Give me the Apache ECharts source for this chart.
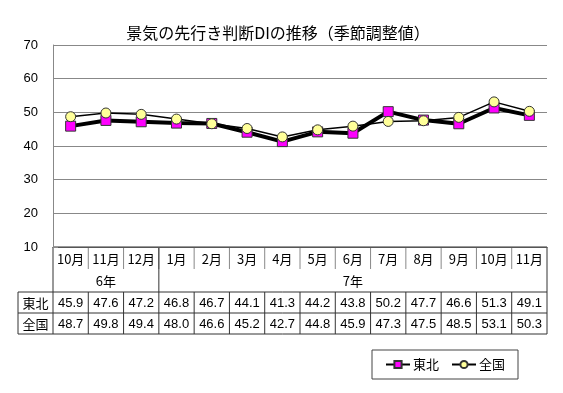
<!DOCTYPE html>
<html><head><meta charset="utf-8">
<script src="https://cdn.jsdelivr.net/npm/echarts@6/dist/echarts.min.js"></script>
<style>html,body{margin:0;padding:0;background:#fff}#c{width:563px;height:393px}</style>
</head><body><div id="c"></div>
<script>
const titleText = '景気の先行き判断DIの推移（季節調整値）';
const months = ['10月','11月','12月','1月','2月','3月','4月','5月','6月','7月','8月','9月','10月','11月'];
const yearLabels = ['6年','7年'];
const yearSpans = [3, 11];
const seriesNames = ['東北','全国'];
const tohoku = [45.9,47.6,47.2,46.8,46.7,44.1,41.3,44.2,43.8,50.2,47.7,46.6,51.3,49.1];
const zenkoku = [48.7,49.8,49.4,48.0,46.6,45.2,42.7,44.8,45.9,47.3,47.5,48.5,53.1,50.3];
const yMin = 10, yMax = 70, yStep = 10;

const FONT = '"Liberation Sans", Arial, "Noto Sans CJK JP", sans-serif';
const CJK = '"Noto Sans CJK JP", sans-serif';
const chart = echarts.init(document.getElementById('c'), null, {renderer:'canvas'});
const option = {
  animation: false,
  title: { text: titleText, left: 273, top: 20, textAlign: 'center',
    textStyle: { fontFamily: CJK, fontSize: 16, fontWeight: 'normal', color: '#000' } },
  grid: { left: 53, right: 16, top: 45, bottom: 146, containLabel: false },
  xAxis: { type: 'category', data: months.map((m,i)=>String(i)), boundaryGap: true,
    axisLine: { show: true, lineStyle: { color: '#555', width: 1 } },
    axisTick: { show: false }, axisLabel: { show: false }, splitLine: { show: false } },
  yAxis: { type: 'value', min: yMin, max: yMax, interval: yStep,
    axisLine: { show: true, lineStyle: { color: '#888', width: 1 } },
    axisTick: { show: true, inside: true, length: 5, lineStyle: { color: '#888' } },
    axisLabel: { color: '#000', fontFamily: FONT, fontSize: 13, margin: 15 },
    splitLine: { show: true, lineStyle: { color: '#888', width: 1 } } },
  legend: { left: 372, top: 350, orient: 'horizontal', padding: [8, 13, 8, 13],
    borderColor: '#444', borderWidth: 1, itemWidth: 24, itemHeight: 9, itemGap: 12,
    textStyle: { fontFamily: CJK, fontSize: 13, color: '#000', padding: [0,0,0,-2] },
    data: seriesNames },
  series: [
    { name: seriesNames[0], type: 'line', data: tohoku, symbol: 'rect', symbolSize: 10,
      lineStyle: { color: '#000', width: 4 },
      itemStyle: { color: '#FF00FF', borderColor: '#333', borderWidth: 1 }, z: 2 },
    { name: seriesNames[1], type: 'line', data: zenkoku, symbol: 'circle', symbolSize: 10,
      lineStyle: { color: '#000', width: 1.5 },
      itemStyle: { color: '#FFFF99', borderColor: '#333', borderWidth: 1 }, z: 3 }
  ]
};
chart.setOption(option);

// Build the data table under the axis from the axis scale
const half = (chart.convertToPixel({xAxisIndex:0}, 1) - chart.convertToPixel({xAxisIndex:0}, 0)) / 2;
const cx = i => chart.convertToPixel({xAxisIndex:0}, i);
const axisY = chart.convertToPixel({yAxisIndex:0}, yMin);
const rowH = [23, 22, 21, 21];
const r0 = axisY, r1 = r0 + rowH[0], r2 = r1 + rowH[1], r3 = r2 + rowH[2], r4 = r3 + rowH[3];
const xL = cx(0) - half, xR = cx(months.length - 1) + half, xLab = xL - 35;
const g = [];
const line = (x1,y1,x2,y2,c) => g.push({type:'line', shape:{x1,y1,x2,y2}, style:{stroke:c||'#333', lineWidth:1}, silent:true});
const text = (x,y,t,f) => g.push({type:'text', x, y, style:{text:t, fill:'#000', font:'13px ' + (f||FONT), align:'center', verticalAlign:'middle'}, silent:true});
line(xL, r0, xL, r4);
line(xR, r0, xR, r4);
line(xL, r0, xR, r0);
line(xLab, r2, xR, r2);
line(xLab, r3, xR, r3);
line(xLab, r4, xR, r4);
line(xLab, r2, xLab, r4);
for (let i = 1; i < months.length; i++) {
  const x = cx(i) - half;
  line(x, r0, x, r1 - 1, '#888');
  line(x, r2, x, r4);
}
let acc = 0;
yearLabels.forEach((lab, k) => {
  const s = acc, e = acc + yearSpans[k] - 1;
  text((cx(s) + cx(e)) / 2, (r1 + r2) / 2, lab, CJK);
  if (k > 0) line(cx(s) - half, r0, cx(s) - half, r2);
  acc += yearSpans[k];
});
months.forEach((m, i) => {
  text(cx(i), (r0 + r1) / 2 + 1, m, CJK);
  text(cx(i), (r2 + r3) / 2 + 1, tohoku[i].toFixed(1));
  text(cx(i), (r3 + r4) / 2 + 1, zenkoku[i].toFixed(1));
});
text((xLab + xL) / 2, (r2 + r3) / 2 + 1, seriesNames[0], CJK);
text((xLab + xL) / 2, (r3 + r4) / 2 + 1, seriesNames[1], CJK);
chart.setOption({ graphic: g });
</script></body></html>
